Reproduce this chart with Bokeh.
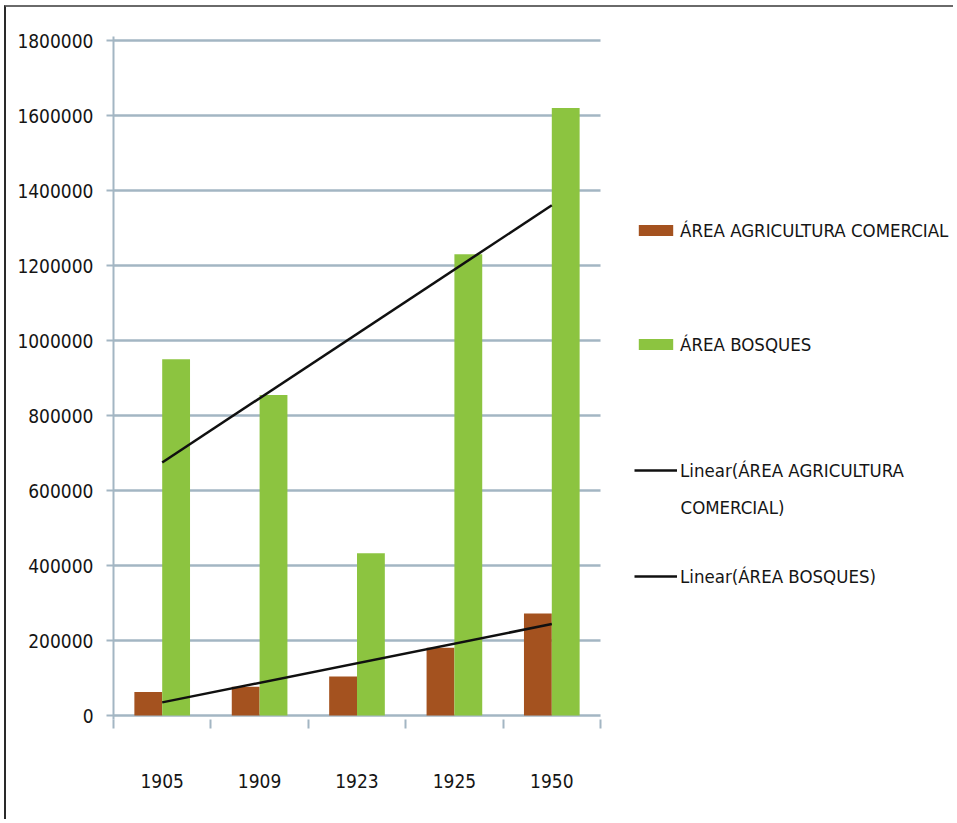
import numpy as np
from bokeh.plotting import figure
from bokeh.models import (FixedTicker, Range1d, Legend, LegendItem, ColumnDataSource,
                          NumeralTickFormatter, Label)
from bokeh.transform import dodge
from bokeh.embed import file_html
from bokeh.resources import INLINE

# ---- data ----
years = ["1905", "1909", "1923", "1925", "1950"]
agricultura = [63000, 77000, 104000, 181000, 272000]
bosques = [950000, 855000, 433000, 1230000, 1620000]
y_ticks = [0, 200000, 400000, 600000, 800000, 1000000, 1200000, 1400000, 1600000, 1800000]
labels = ["ÁREA AGRICULTURA COMERCIAL", "ÁREA BOSQUES",
          "Linear(ÁREA AGRICULTURA", "COMERCIAL)", "Linear(ÁREA BOSQUES)"]

FONT = "'DejaVu Sans Condensed', 'DejaVu Sans', sans-serif"
BROWN = "#A4521F"
GREEN = "#8CC440"
GRID = "#A3B6C3"
TXT = "#151515"

n = len(years)
centers = np.arange(n) + 0.5
bw = 1 / 3.5

# layout (pixels)
W, H = 949, 814
left_px = 107
data_w_px = 487          # width covered by the 5 categories
frame_w_px = W - left_px # frame extends under the legend area
pad_px = 4
y_max = y_ticks[-1]
y_pad = y_max / 675 * pad_px
x_end = n * frame_w_px / data_w_px

src = ColumnDataSource(dict(c=centers, agr=agricultura, bos=bosques))

p = figure(width=W, height=H, output_backend="svg", toolbar_location=None,
           x_range=Range1d(0, x_end), y_range=Range1d(-y_pad, y_max + y_pad),
           min_border_left=left_px, min_border_top=29, min_border_right=0,
           min_border_bottom=H - 29 - 683)
p.styles = {"border-top": "2px solid #6a6a6a", "border-left": "2px solid #2a2a2a",
            "margin-left": "4px", "margin-top": "5px"}
p.outline_line_color = None
p.background_fill_color = "white"
p.xgrid.grid_line_color = None
p.ygrid.grid_line_color = None

# gridlines spanning the category area only
p.segment(x0=0, x1=n, y0=y_ticks, y1=y_ticks, line_color=GRID, line_width=2.5)

r_agr = p.vbar(x=dodge("c", -bw / 2), top="agr", bottom=0, width=bw, source=src,
               fill_color=BROWN, line_color=None)
r_bos = p.vbar(x=dodge("c", bw / 2), top="bos", bottom=0, width=bw, source=src,
               fill_color=GREEN, line_color=None)

# linear trend lines (least squares on the series)
xi = np.arange(1, n + 1)
ka, ca = np.polyfit(xi, agricultura, 1)
kb, cb = np.polyfit(xi, bosques, 1)
tx = [centers[0], centers[-1]]
r_ta = p.line(tx, [ka * 1 + ca, ka * n + ca], line_color="#101010", line_width=2.5)
r_tb = p.line(tx, [kb * 1 + cb, kb * n + cb], line_color="#101010", line_width=2.5)

# axes
xa = p.xaxis[0]
xa.ticker = FixedTicker(ticks=list(centers), minor_ticks=list(range(n + 1)))
xa.major_label_overrides = {float(c): y for c, y in zip(centers, years)}
xa.major_tick_line_color = None
xa.major_tick_out = 0
xa.major_tick_in = 0
xa.minor_tick_out = 9
xa.minor_tick_in = 0
xa.minor_tick_line_color = GRID
xa.minor_tick_line_width = 2
xa.axis_line_color = None
xa.major_label_standoff = 45
xa.major_label_text_font = FONT
xa.major_label_text_font_size = "19px"
xa.major_label_text_color = TXT

ya = p.yaxis[0]
ya.ticker = FixedTicker(ticks=y_ticks)
ya.formatter = NumeralTickFormatter(format="0")
ya.major_tick_out = 7
ya.major_tick_in = 0
ya.major_tick_line_color = GRID
ya.major_tick_line_width = 2
ya.minor_tick_line_color = None
ya.axis_line_color = GRID
ya.axis_line_width = 2
ya.major_label_standoff = 13
ya.major_label_text_font = FONT
ya.major_label_text_font_size = "19px"
ya.major_label_text_color = TXT

# legends (one per entry to match spacing)
def add_leg(label, r, loc):
    lg = Legend(items=[LegendItem(label=label, renderers=[r])], location=loc,
                glyph_width=43, glyph_height=14, label_standoff=3, label_height=24,
                padding=0, margin=0, border_line_color=None, background_fill_alpha=0,
                label_text_font=FONT, label_text_font_size="18.5px", label_text_color=TXT)
    p.add_layout(lg)

add_leg(labels[0], r_agr, (521, 477))
add_leg(labels[1], r_bos, (521, 363))
add_leg(labels[2], r_ta, (521, 237))
add_leg(labels[4], r_tb, (521, 131))
p.add_layout(Label(x=567, y=212, x_units="screen", y_units="screen", text=labels[3],
                   text_font=FONT, text_font_size="18.5px", text_color=TXT,
                   text_baseline="middle"))

open("out.html", "w").write(file_html(p, INLINE))
